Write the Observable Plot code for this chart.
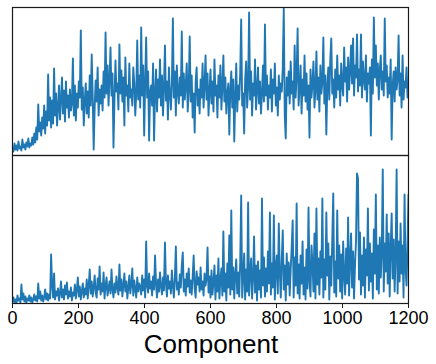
<!DOCTYPE html>
<html><head><meta charset="utf-8">
<script src="https://cdn.jsdelivr.net/npm/d3@7"></script>
<script src="https://cdn.jsdelivr.net/npm/@observablehq/plot@0.6"></script>
<style>
body{margin:0;background:#fff;font-family:"Liberation Sans",Arial,sans-serif;}
#wrap{position:relative;width:436px;height:364px;}
#xlabel{position:absolute;left:0;width:422px;top:331px;text-align:center;font-size:26px;line-height:26px;color:#000;}
</style></head><body><div id="wrap"><div id="chart"></div><div id="xlabel">Component</div></div>
<script>
const step = 3;
const topValues = [
8,4,12,6,10,5,14,7,9,5,
16,8,11,6,13,9,17,8,12,10,
18,11,22,13,28,16,51,24,33,20,
38,27,50,22,44,30,81,35,58,28,
55,32,87,40,62,30,48,70,36,56,
78,42,65,34,74,48,60,38,66,45,
52,97,40,70,35,62,48,74,58,125,
46,68,30,55,72,42,64,38,80,50,
101,60,6,48,75,54,88,40,66,52,
70,45,84,58,123,62,90,50,76,108,
60,82,8,56,95,64,72,46,111,62,
85,54,78,30,98,60,70,44,92,58,
66,50,88,72,40,62,115,56,80,48,
128,60,90,20,72,118,58,84,15,64,
70,50,92,15,62,86,44,76,58,96,
50,80,40,68,110,55,74,36,88,62,
46,72,137,58,84,40,90,64,52,78,
60,124,48,82,56,70,92,44,66,119,
54,80,38,62,23,74,88,50,66,42,
76,58,92,48,70,100,56,82,40,64,
86,52,74,44,96,60,70,38,80,58,
90,46,68,100,54,78,42,62,72,21,
66,84,48,76,14,58,92,44,70,56,
82,136,50,62,22,76,94,48,68,143,
56,84,40,72,60,96,46,66,88,52,
74,42,62,90,54,131,60,80,46,70,
58,86,44,76,62,92,50,68,40,80,
56,72,64,88,147,40,17,78,60,84,
52,94,62,74,46,110,58,80,127,50,
68,90,42,76,60,100,54,82,46,70,
18,86,58,72,94,48,66,104,56,78,
44,90,62,74,118,52,80,21,70,88,
56,96,117,62,76,48,86,58,100,66,
80,50,92,70,60,108,74,88,54,98,
66,84,110,72,117,60,90,78,121,64,
86,70,121,58,94,76,66,100,54,82,
72,88,20,96,62,138,78,110,70,92,
56,86,100,66,84,60,137,74,90,58,
78,62,96,16,70,84,54,88,66,76,
120,60,82,48,100,56,74,68,88,58,
70];
const bottomValues = [
2,6,1,4,0,8,3,5,1,19,
4,10,2,7,1,5,3,8,2,6,
1,4,9,3,7,2,20,5,12,3,
8,2,6,14,4,10,3,9,5,49,
18,6,30,4,12,8,15,3,10,22,
6,14,4,18,9,21,5,12,7,16,
3,11,8,19,5,14,26,7,17,4,
12,20,6,15,9,24,5,18,34,10,
22,7,16,28,11,6,25,14,37,9,
20,12,31,5,18,26,8,15,22,10,
34,14,6,20,11,27,16,9,39,13,
24,7,18,30,12,22,5,16,28,10,
19,35,8,23,14,6,26,12,20,16,
9,28,13,24,6,62,18,11,30,15,
22,8,27,14,48,19,6,24,12,31,
17,9,26,13,61,20,7,28,15,22,
10,33,18,6,25,57,14,21,9,29,
16,38,51,12,24,8,30,17,35,11,
23,9,27,48,15,6,32,19,26,12,
36,14,22,8,30,18,25,56,11,27,
6,33,9,21,38,4,28,12,45,5,
24,35,8,72,12,30,3,40,16,68,
9,93,14,36,5,29,44,10,31,7,
40,108,6,27,50,4,34,12,101,8,
30,45,5,26,67,11,38,3,42,14,
33,6,105,18,46,7,35,12,52,20,
91,9,40,16,88,4,36,48,10,80,
31,6,44,73,14,38,3,50,19,41,
8,34,56,83,6,46,18,100,10,39,
5,48,20,62,9,36,4,54,15,96,
23,7,58,40,12,70,5,95,19,45,
9,52,26,105,6,44,14,91,28,60,
4,47,18,64,110,11,42,7,93,25,
58,12,49,5,62,28,9,55,20,86,
8,45,70,16,52,5,40,63,130,125,
24,71,9,48,18,66,6,54,28,95,
13,60,22,50,5,74,30,109,14,58,
10,66,26,52,134,12,60,32,89,20,
70,7,56,90,25,64,12,48,134,10,
62,22,80,30,58,6,109,34,18,60,
109];
const xTicks = [0,200,400,600,800,1000,1200];
const panels = ["top","bottom"];

const rows = [];
topValues.forEach((v,i)=>rows.push({x:i*step, y:v, panel:"top"}));
bottomValues.forEach((v,i)=>rows.push({x:i*step, y:v, panel:"bottom"}));

const chart = Plot.plot({
  width:436, height:330,
  marginTop:7, marginBottom:27, marginLeft:12, marginRight:28,
  style:{fontFamily:'"Liberation Sans", Arial, sans-serif', color:"#000", background:"#fff"},
  x:{domain:[0,1200]},
  y:{domain:[0,148], axis:null},
  fy:{domain:panels, padding:0, axis:null},
  marks:[
    Plot.lineY(rows,{x:"x", y:"y", fy:"panel", stroke:"#1f77b4", strokeWidth:1.9, clip:true}),
    Plot.frame({stroke:"#1a1a1a", strokeWidth:1.2}),
    Plot.axisX({ticks:xTicks, tickSize:5, tickPadding:3, fontSize:18, tickFormat:d=>String(d), label:null, stroke:"#1a1a1a", fill:"#000"})
  ]
});
document.getElementById("chart").appendChild(chart);
</script>
</body></html>
